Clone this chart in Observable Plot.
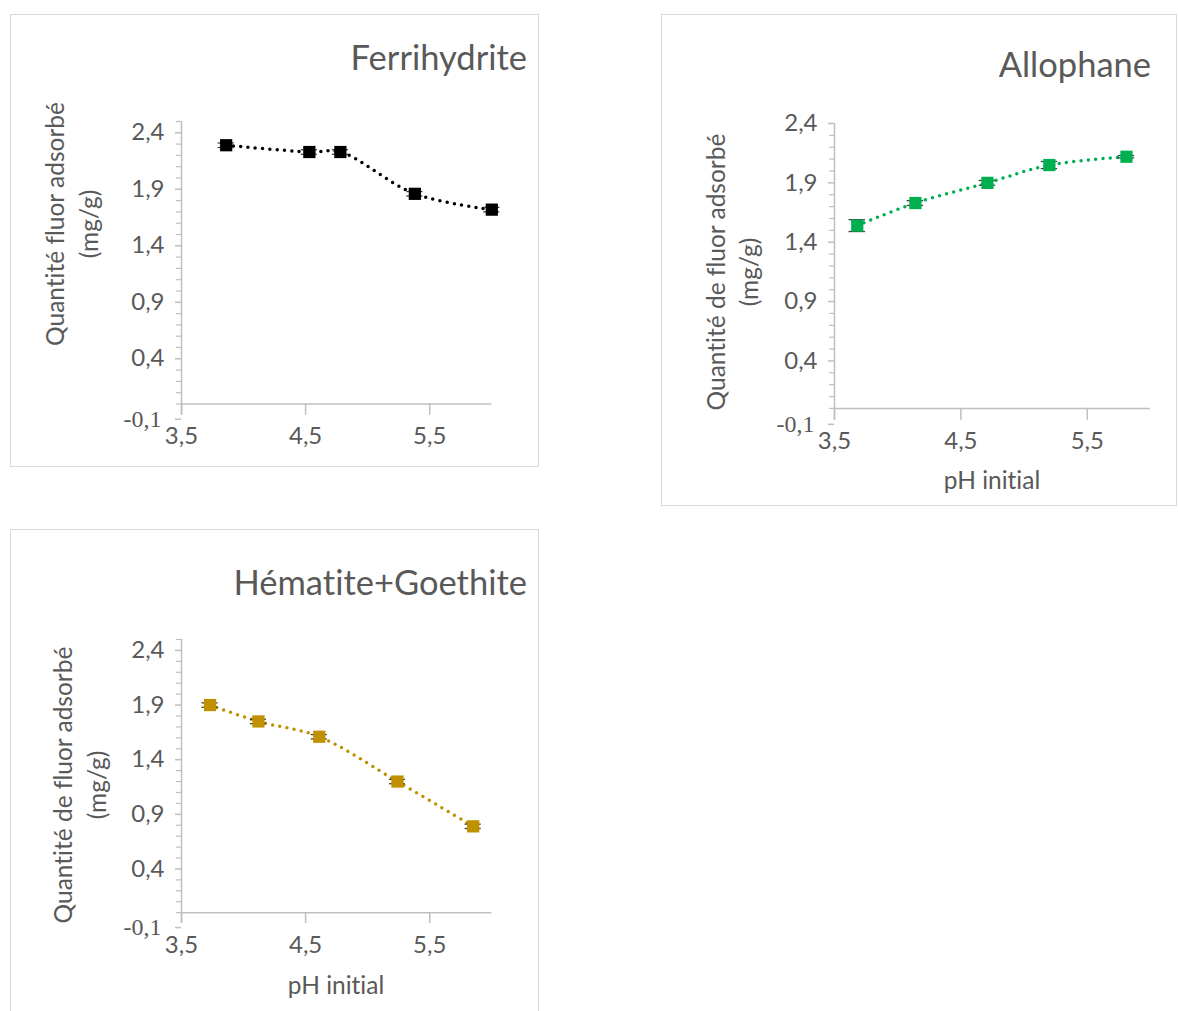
<!DOCTYPE html>
<html>
<head>
<meta charset="utf-8">
<script src="https://cdn.jsdelivr.net/npm/d3@7"></script>
<script src="https://cdn.jsdelivr.net/npm/@observablehq/plot@0.6"></script>
<style>
  body { margin: 0; background: #fff; }
  #root { position: relative; width: 1178px; height: 1011px; overflow: hidden; background: #fff; font-family: Lato, "Open Sans", sans-serif; font-variant-ligatures: none; }
  #root svg text { font-variant-ligatures: none; }
  .box { position: absolute; border: 1.3px solid #d9d9d9; box-sizing: border-box; }
  .plot { position: absolute; }
  #overlay { position: absolute; left: 0; top: 0; pointer-events: none; }
</style>
</head>
<body>
<div id="root"></div>
<script>
// ---------- data ----------
const ferriPH  = [3.86, 4.53, 4.78, 5.38, 6.00];
const ferriQ   = [2.29, 2.23, 2.23, 1.86, 1.72];
const ferriErr = [0.02, 0.02, 0.02, 0.02, 0.02];

const alloPH   = [3.68, 4.14, 4.71, 5.20, 5.81];
const alloQ    = [1.54, 1.73, 1.90, 2.05, 2.12];
const alloErr  = [0.05, 0.02, 0.02, 0.03, 0.01];

const hemPH    = [3.73, 4.12, 4.61, 5.24, 5.85];
const hemQ     = [1.90, 1.75, 1.61, 1.20, 0.79];
const hemErr   = [0.02, 0.02, 0.02, 0.02, 0.02];

const xTicks = [3.5, 4.5, 5.5];
const yTicks = [-0.1, 0.4, 0.9, 1.4, 1.9, 2.4];
const yMinorTicks = [0.0, 0.1, 0.2, 0.3, 0.5, 0.6, 0.7, 0.8, 1.0, 1.1, 1.2, 1.3, 1.5, 1.6, 1.7, 1.8, 2.0, 2.1, 2.2, 2.3, 2.5];

const titles = ["Ferrihydrite", "Allophane", "Hématite+Goethite"];
const yTitles = [["Quantité fluor adsorbé", "(mg/g)"], ["Quantité de fluor adsorbé", "(mg/g)"], ["Quantité de fluor adsorbé", "(mg/g)"]];
const xTitle = "pH initial";
const colors = ["#000000", "#00b050", "#bf9000"];

// ---------- layout ----------
const panels = [
  { ph: ferriPH, q: ferriQ, err: ferriErr, color: colors[0], yMax: 2.5,
    box: { l: 9.5, t: 14, r: 538.5, b: 466.5 },
    frame: { l: 180.7, r: 491, t: 121.2, b: 415 },
    title: { text: titles[0], x: 527, y: 69.5 },
    yTitle: { lines: yTitles[0], x: [64, 98], y: 224 },
    xTitle: null },
  { ph: alloPH, q: alloQ, err: alloErr, color: colors[1], yMax: 2.4,
    box: { l: 660.7, t: 14, r: 1177.5, b: 505.5 },
    frame: { l: 834, r: 1150, t: 123.2, b: 420 },
    title: { text: titles[1], x: 1151, y: 77 },
    yTitle: { lines: yTitles[1], x: [725, 758], y: 272 },
    xTitle: { text: xTitle, x: 992, y: 489 } },
  { ph: hemPH, q: hemQ, err: hemErr, color: colors[2], yMax: 2.5,
    box: { l: 9.5, t: 529, r: 538.5, b: 1030 },
    frame: { l: 180.7, r: 491, t: 639.2, b: 923.3 },
    title: { text: titles[2], x: 527, y: 594.5 },
    yTitle: { lines: yTitles[2], x: [72, 106], y: 785 },
    xTitle: { text: xTitle, x: 336, y: 994 } }
];

const root = document.getElementById("root");
const fmt = d => d.toFixed(1).replace(".", ",");
const axisGray = "#bfbfbf";
const textGray = "#595959";
const tickFont = "24px";

for (const p of panels) {
  const box = document.createElement("div");
  box.className = "box";
  box.style.left = p.box.l + "px";
  box.style.top = p.box.t + "px";
  box.style.width = (p.box.r - p.box.l) + "px";
  box.style.height = (p.box.b - p.box.t) + "px";
  root.appendChild(box);

  const data = p.ph.map((x, i) => ({ x, y: p.q[i], e: p.err[i] }));
  const yDomain = [-0.1, p.yMax];
  const minor = yMinorTicks.filter(v => v <= p.yMax + 1e-9);
  const major = yTicks.filter(v => v > -0.05);

  const mL = 80, mR = 20, mT = 20, mB = 50;
  const width = mL + (p.frame.r - p.frame.l) + mR;
  const height = mT + (p.frame.b - p.frame.t) + mB;

  const chart = Plot.plot({
    width, height,
    marginLeft: mL, marginRight: mR, marginTop: mT, marginBottom: mB,
    style: { background: "transparent", fontFamily: "Lato, 'Open Sans', sans-serif", fontSize: tickFont, color: textGray, overflow: "visible" },
    x: { domain: [3.5, 6], axis: null },
    y: { domain: yDomain, axis: null },
    marks: [
      Plot.ruleY([0], { stroke: axisGray, strokeWidth: 1.5 }),
      Plot.ruleX(xTicks, { y1: 0, y2: -0.1, stroke: axisGray, strokeWidth: 1.5 }),
      Plot.ruleX([3.5], { stroke: axisGray, strokeWidth: 1.5 }),
      Plot.axisY(minor, { tickSize: 5, tickFormat: () => "", stroke: axisGray, strokeWidth: 1.2, label: null }),
      Plot.axisY(major, { tickSize: 6, tickPadding: 11, tickFormat: fmt, stroke: axisGray, strokeWidth: 1.5, fill: textGray, label: null }),
      Plot.axisY([-0.1], { tickSize: 6, tickPadding: 14, tickFormat: fmt, stroke: axisGray, strokeWidth: 1.5, fill: textGray, fontFamily: "'Liberation Serif', serif", fontSize: "24px", dy: 4, label: null }),
      Plot.axisX(xTicks, { anchor: "bottom", tickSize: 0, tickPadding: 12, tickFormat: fmt, fill: textGray, label: null }),
      Plot.line(data, { x: "x", y: "y", curve: "catmull-rom", stroke: p.color, strokeWidth: 3.5, strokeDasharray: "0 7.3", strokeLinecap: "round" }),
      Plot.ruleX(data, { x: "x", y1: d => d.y - d.e, y2: d => d.y + d.e, stroke: "#404040", strokeWidth: 1.3 }),
      Plot.ruleY(data, { y: d => d.y + d.e, x1: d => d.x - 0.065, x2: d => d.x + 0.065, stroke: "#404040", strokeWidth: 1.3 }),
      Plot.ruleY(data, { y: d => d.y - d.e, x1: d => d.x - 0.065, x2: d => d.x + 0.065, stroke: "#404040", strokeWidth: 1.3 }),
      Plot.dot(data, { x: "x", y: "y", symbol: "square", r: 6.9, fill: p.color, stroke: "none" })
    ]
  });
  chart.classList.add("plot");
  chart.style.left = (p.frame.l - mL) + "px";
  chart.style.top = (p.frame.t - mT) + "px";
  root.appendChild(chart);
}

// ---------- titles and axis titles ----------
const overlay = d3.select(root).append("svg")
  .attr("id", "overlay").attr("width", 1178).attr("height", 1011)
  .style("font-family", "Lato, 'Open Sans', sans-serif").attr("fill", textGray);

for (const p of panels) {
  overlay.append("text").attr("x", p.title.x).attr("y", p.title.y)
    .attr("text-anchor", "end").attr("font-size", 34.5).text(p.title.text);
  p.yTitle.lines.forEach((line, i) => {
    overlay.append("text")
      .attr("transform", `translate(${p.yTitle.x[i]},${p.yTitle.y}) rotate(-90)`)
      .attr("text-anchor", "middle").attr("font-size", 24.5).text(line);
  });
  if (p.xTitle) {
    overlay.append("text").attr("x", p.xTitle.x).attr("y", p.xTitle.y)
      .attr("text-anchor", "middle").attr("font-size", 24.5).text(p.xTitle.text);
  }
}
</script>
</body>
</html>
